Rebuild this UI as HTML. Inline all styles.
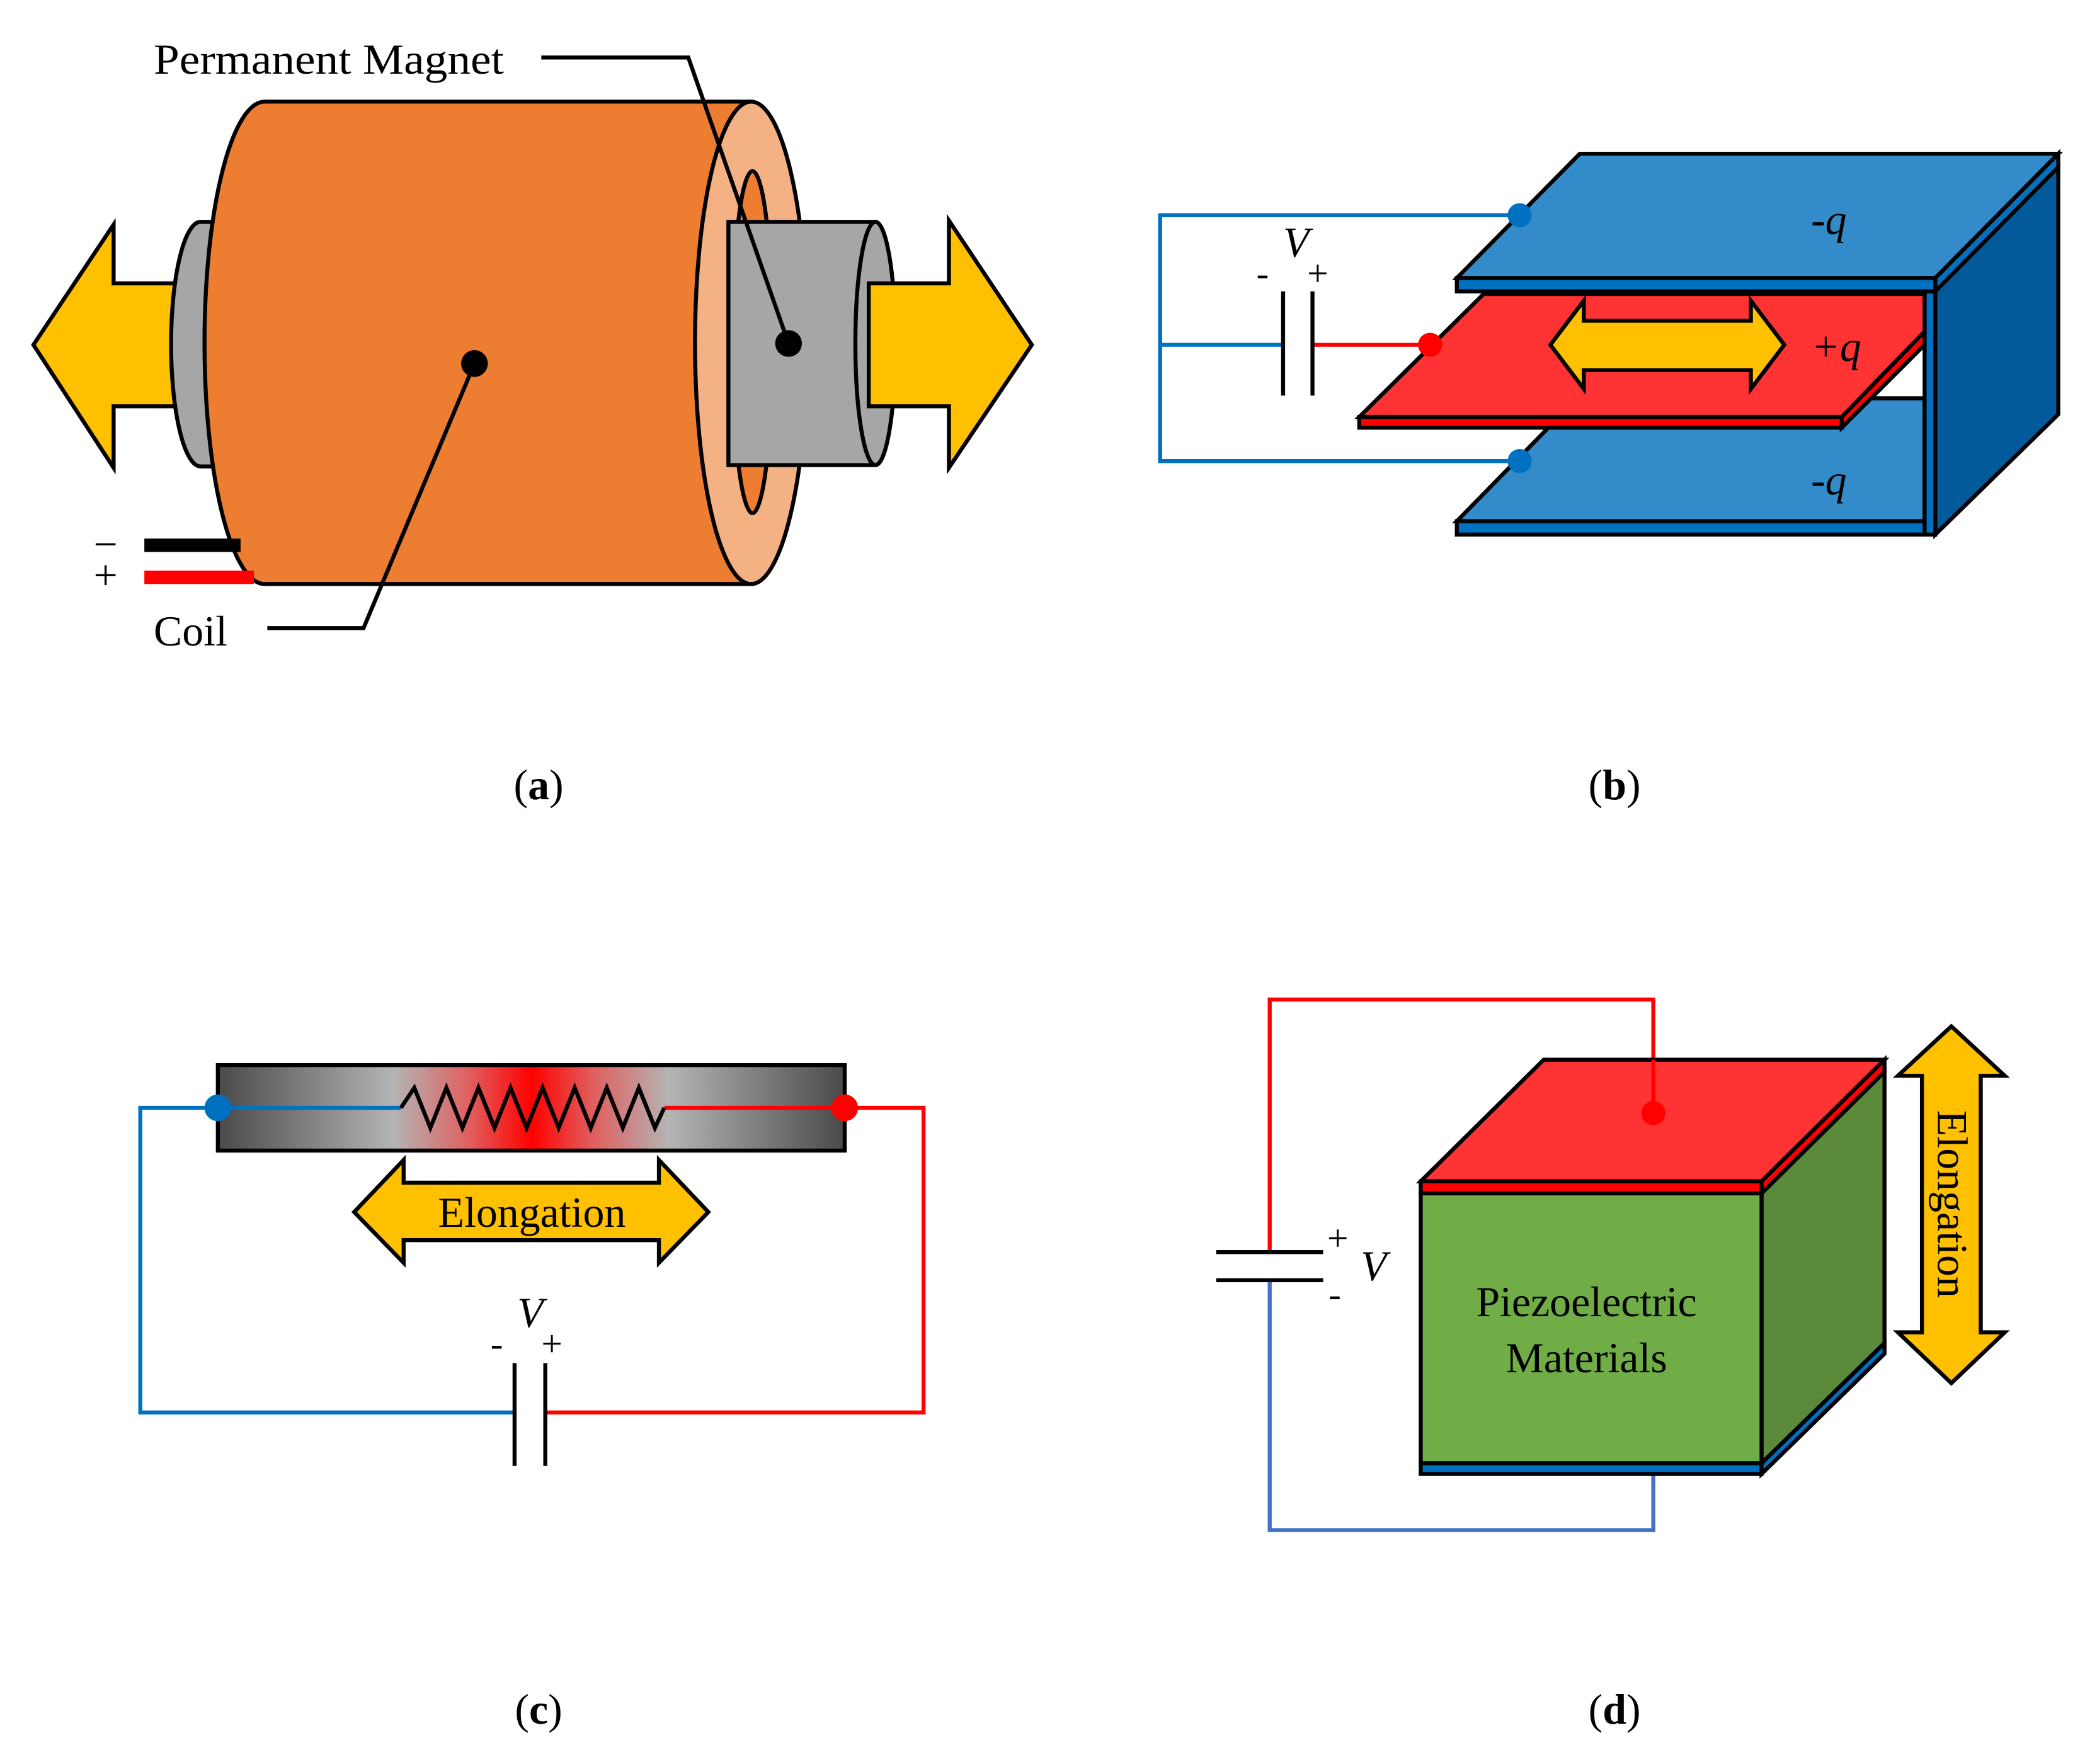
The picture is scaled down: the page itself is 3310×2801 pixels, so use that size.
<!DOCTYPE html>
<html><head><meta charset="utf-8"><style>html,body{margin:0;padding:0;background:#fff}svg{display:block}</style></head>
<body>
<svg width="3310" height="2801" viewBox="0 0 1560 1320" xmlns="http://www.w3.org/2000/svg" font-family="Liberation Serif, serif">
<defs>
<linearGradient id="bar" x1="0" x2="1" y1="0" y2="0">
<stop offset="0" stop-color="#4a4a4a"/><stop offset="0.28" stop-color="#b4b4b4"/><stop offset="0.4" stop-color="#e06060"/><stop offset="0.5" stop-color="#ff0000"/><stop offset="0.6" stop-color="#e06060"/><stop offset="0.72" stop-color="#b4b4b4"/><stop offset="1" stop-color="#4a4a4a"/>
</linearGradient>
</defs>
<g stroke="#000" stroke-width="3" stroke-linejoin="miter">
<polygon points="25,258 85,168 85,212 132,212 132,304 85,304 85,350" fill="#FFC000"/>
<path d="M150,166 L175,166 L175,349 L150,349 A22,91.5 0 0 1 150,166 Z" fill="#A6A6A6"/>
<path d="M198,76 L562,76 L562,437 L198,437 A45,180.5 0 0 1 198,76 Z" fill="#ED7D31"/>
<ellipse cx="562" cy="256.5" rx="42" ry="180.5" fill="#F4B183"/>
<ellipse cx="563" cy="256" rx="15" ry="128" fill="#ED7D31"/>
<path d="M545,166 L655,166 L655,348 L545,348 Z" fill="#A6A6A6"/>
<ellipse cx="655" cy="257" rx="15" ry="91" fill="#A6A6A6"/>
<polygon points="650,212 710,212 710,165 772,258 710,350 710,304 650,304" fill="#FFC000"/>
<polyline points="405,43 515,43 590,257" fill="none"/>
<polyline points="355,272 272,470 200,470" fill="none"/>
</g>
<circle cx="590" cy="257" r="10"/>
<circle cx="355" cy="272" r="10"/>
<rect x="108" y="403" width="72" height="10" fill="#000"/>
<rect x="108" y="427" width="82" height="10" fill="#f00"/>
<g font-size="32">
<text x="115" y="55" textLength="262" lengthAdjust="spacingAndGlyphs">Permanent Magnet</text>
<text x="115" y="483">Coil</text>
<text x="70" y="418">−</text>
<text x="70" y="441">+</text>
</g>

<g stroke="#000" stroke-width="3">
<polygon points="1448,215 1540,125 1540,310 1448,400" fill="#035A9A"/>
<polygon points="1090,390 1180,298 1440,298 1440,390" fill="#338BCA"/>
<rect x="1090" y="390" width="352" height="10" fill="#0070C0"/>
<rect x="1440" y="215" width="8" height="185" fill="#0070C0"/>
<polygon points="1090,208 1182,115 1540,115 1448,208" fill="#338BCA"/>
<polygon points="1448,208 1540,115 1540,125 1448,218" fill="#0070C0"/>
<rect x="1090" y="208" width="358" height="10" fill="#0070C0"/>
<polygon points="1017,312 1110,220 1440,220 1440,248 1378,312" fill="#FF3333"/>
<polygon points="1378,312 1440,248 1440,258 1378,320" fill="#f00"/>
<rect x="1017" y="312" width="361" height="8" fill="#f00"/>
<polygon points="1160,258 1185,225 1185,240 1310,240 1310,225 1335,258 1310,291 1310,277 1185,277 1185,291" fill="#FFC000"/>
</g>
<g fill="none" stroke-width="3">
<polyline points="1137,161 868,161 868,345 1137,345" stroke="#0070C0"/>
<line x1="868" y1="258" x2="960" y2="258" stroke="#0070C0"/>
<line x1="982" y1="258" x2="1070" y2="258" stroke="#f00"/>
<line x1="960" y1="218" x2="960" y2="296" stroke="#000"/>
<line x1="982" y1="218" x2="982" y2="296" stroke="#000"/>
</g>
<circle cx="1137" cy="161" r="9" fill="#0070C0"/>
<circle cx="1137" cy="345" r="9" fill="#0070C0"/>
<circle cx="1070" cy="258" r="9" fill="#f00"/>
<g font-size="32" font-style="italic">
<text x="1355" y="175">-q</text>
<text x="1355" y="270">+q</text>
<text x="1355" y="370">-q</text>
<text x="960" y="192">V</text>
</g>
<text x="940" y="214" font-size="28">-</text>
<text x="978" y="214" font-size="28">+</text>

<rect x="163" y="797" width="469" height="64" fill="url(#bar)" stroke="#000" stroke-width="3"/>
<g fill="none" stroke-width="3">
<line x1="163" y1="829" x2="300" y2="829" stroke="#0070C0"/>
<line x1="497" y1="829" x2="632" y2="829" stroke="#f00"/>
<polyline points="300,829 310,814 322,844 334,814 346,844 358,814 370,844 382,814 394,844 406,814 418,844 430,814 442,844 454,814 466,844 478,814 490,844 497,829" stroke="#000"/>
<polyline points="163,829 105,829 105,1057 385,1057" stroke="#0070C0"/>
<polyline points="408,1057 691,1057 691,829 632,829" stroke="#f00"/>
<line x1="385" y1="1020" x2="385" y2="1097" stroke="#000"/>
<line x1="408" y1="1020" x2="408" y2="1097" stroke="#000"/>
</g>
<circle cx="163" cy="829" r="10" fill="#0070C0"/>
<circle cx="632" cy="829" r="10" fill="#f00"/>
<polygon points="265,907 302,868 302,885 493,885 493,868 530,907 493,945 493,928 302,928 302,945" fill="#FFC000" stroke="#000" stroke-width="3"/>
<text x="398" y="918" font-size="32" text-anchor="middle">Elongation</text>
<text x="387" y="993" font-size="32" font-style="italic">V</text>
<text x="367" y="1015" font-size="28">-</text>
<text x="405" y="1015" font-size="28">+</text>

<g fill="none" stroke-width="3">
<polyline points="1237,833 1237,748 950,748 950,937" stroke="#f00"/>
<polyline points="950,958 950,1145 1237,1145 1237,1103" stroke="#4472C4"/>
<line x1="910" y1="937" x2="990" y2="937" stroke="#000"/>
<line x1="910" y1="958" x2="990" y2="958" stroke="#000"/>
</g>
<g stroke="#000" stroke-width="3">
<polygon points="1318,893 1410,802 1410,1005 1318,1095" fill="#5A8A3A"/>
<rect x="1063" y="893" width="255" height="202" fill="#70AD47"/>
<rect x="1063" y="1095" width="255" height="8" fill="#0070C0"/>
<polygon points="1318,1095 1410,1005 1410,1013 1318,1103" fill="#0070C0"/>
<polygon points="1063,884 1155,793 1410,793 1318,884" fill="#FF3333"/>
<polygon points="1318,884 1410,793 1410,802 1318,893" fill="#f00"/>
<rect x="1063" y="884" width="255" height="9" fill="#f00"/>
<polygon points="1460,768 1500,805 1482,805 1482,997 1500,997 1460,1035 1420,997 1438,997 1438,805 1420,805" fill="#FFC000"/>
</g>
<line x1="1237" y1="833" x2="1237" y2="793" stroke="#f00" stroke-width="3"/>
<circle cx="1237" cy="833" r="9" fill="#f00"/>
<text x="1187" y="985" font-size="32" text-anchor="middle">Piezoelectric</text>
<text x="1187" y="1027" font-size="32" text-anchor="middle">Materials</text>
<text transform="translate(1450,901) rotate(90)" font-size="32" text-anchor="middle">Elongation</text>
<text x="993" y="936" font-size="28">+</text>
<text x="1018" y="958" font-size="32" font-style="italic">V</text>
<text x="994" y="978" font-size="28">-</text>

<g font-size="32" text-anchor="middle">
<text x="403" y="598">(<tspan font-weight="bold">a</tspan>)</text>
<text x="1208" y="598">(<tspan font-weight="bold">b</tspan>)</text>
<text x="403" y="1290">(<tspan font-weight="bold">c</tspan>)</text>
<text x="1208" y="1290">(<tspan font-weight="bold">d</tspan>)</text>
</g>
</svg>
</body></html>
